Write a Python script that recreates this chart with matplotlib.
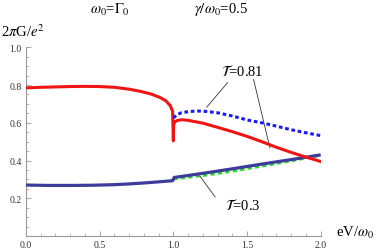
import matplotlib
matplotlib.use("Agg")
import matplotlib.pyplot as plt
from matplotlib.ticker import MultipleLocator

plt.rcParams['font.family'] = ['Liberation Serif', 'DejaVu Serif']
plt.rcParams['mathtext.fontset'] = 'stix'

# Red solid (T=0.81, one model)
red_x = [0.0, 0.1, 0.2, 0.3, 0.4, 0.5, 0.6, 0.7, 0.78, 0.85, 0.91, 0.95, 0.98, 0.995, 1.0,
         1.002, 1.01, 1.03, 1.06, 1.1, 1.2, 1.3, 1.4, 1.5, 1.6, 1.7, 1.8, 1.9, 2.0]
red_y = [0.785, 0.788, 0.790, 0.792, 0.793, 0.792, 0.788, 0.778, 0.766, 0.752, 0.734, 0.716, 0.690, 0.660, 0.504,
         0.590, 0.605, 0.613, 0.616, 0.613, 0.598, 0.576, 0.553, 0.528, 0.500, 0.470, 0.443, 0.418, 0.395]

# Blue dashed (T=0.81, other model), above threshold
bd_x = [1.0, 1.02, 1.05, 1.1, 1.15, 1.2, 1.3, 1.4, 1.5, 1.6, 1.7, 1.8, 1.9, 2.0]
bd_y = [0.625, 0.640, 0.652, 0.659, 0.662, 0.662, 0.653, 0.636, 0.615, 0.600, 0.582, 0.563, 0.547, 0.532]

# Navy solid (T=0.3)
nv_x = [0.0, 0.15, 0.3, 0.45, 0.6, 0.7, 0.8, 0.9, 0.995, 1.0, 1.005, 1.2, 1.4, 1.6, 1.8, 2.0]
nv_y = [0.270, 0.268, 0.268, 0.269, 0.272, 0.276, 0.281, 0.287, 0.293, 0.300, 0.310, 0.332, 0.356, 0.381, 0.405, 0.430]

# Green dashed (T=0.3, other model)
gr_x = [1.0, 1.2, 1.4, 1.6, 1.8, 2.0]
gr_y = [0.302, 0.320, 0.343, 0.370, 0.398, 0.428]

xticks = [0.0, 0.5, 1.0, 1.5, 2.0]
yticks = [0.2, 0.4, 0.6, 0.8, 1.0]

fig = plt.figure(figsize=(3.82, 2.53), dpi=100)
ax = fig.add_axes([26/382, 1-237/253, (320.7-26)/382, (237-48.3)/253])

ax.plot(nv_x, nv_y, color='#3c3c9a', lw=2.3, solid_capstyle='butt', zorder=3)
ax.plot(gr_x, gr_y, color='#22dd22', lw=2.0, ls=(0, (1.5, 1.2)), zorder=2)
ax.plot(red_x, red_y, color='#f01414', lw=2.2, zorder=4)
ax.plot(bd_x, bd_y, color='#1a1aff', lw=2.2, ls=(0, (1.2, 0.9)), zorder=4)

ax.set_xlim(0, 2.0)
ax.set_ylim(0, 1.0)
ax.set_xticks(xticks)
ax.set_yticks(yticks)
ax.set_xticklabels(['%.1f' % v for v in xticks])
ax.set_yticklabels(['%.1f' % v for v in yticks])
ax.xaxis.set_minor_locator(MultipleLocator(0.1))
ax.yaxis.set_minor_locator(MultipleLocator(0.05))
for s in ['top', 'right']:
    ax.spines[s].set_visible(False)
for s in ['left', 'bottom']:
    ax.spines[s].set_color('#999999')
    ax.spines[s].set_linewidth(0.8)
ax.tick_params(which='major', direction='in', length=3.5, width=0.6, color='#999999',
               labelsize=7, labelcolor='#333333', pad=3)
ax.tick_params(which='minor', direction='in', length=2, width=0.5, color='#999999')

fig.text(110/382, 1-10/253, r'$\omega_0$=$\Gamma_0$', fontsize=10.5, ha='center', va='center')
fig.text(221/382, 1-10/253, r'$\gamma/\omega_0$=0.5', fontsize=10.5, ha='center', va='center')
fig.text(1/382, 1-32/253, r'2$\pi$G/$e^2$', fontsize=10.5, ha='left', va='center')
fig.text(336/382, 1-233/253, r'eV/$\omega_0$', fontsize=10.5, ha='left', va='center')

# annotations
ax.annotate('', xy=(1.215, 0.672), xytext=(1.38, 0.824),
            arrowprops=dict(arrowstyle='-', color='#333333', lw=0.6))
ax.annotate('', xy=(1.66, 0.452), xytext=(1.54, 0.844),
            arrowprops=dict(arrowstyle='-', color='#333333', lw=0.6))
ax.text(1.47, 0.875, r'$\mathcal{T}$=0.81', fontsize=10.5, ha='center', va='center')
ax.annotate('', xy=(1.17, 0.328), xytext=(1.295, 0.195),
            arrowprops=dict(arrowstyle='-', color='#333333', lw=0.6))
ax.text(1.47, 0.167, r'$\mathcal{T}$=0.3', fontsize=10.5, ha='center', va='center')

fig.savefig('out.png', dpi=100)
